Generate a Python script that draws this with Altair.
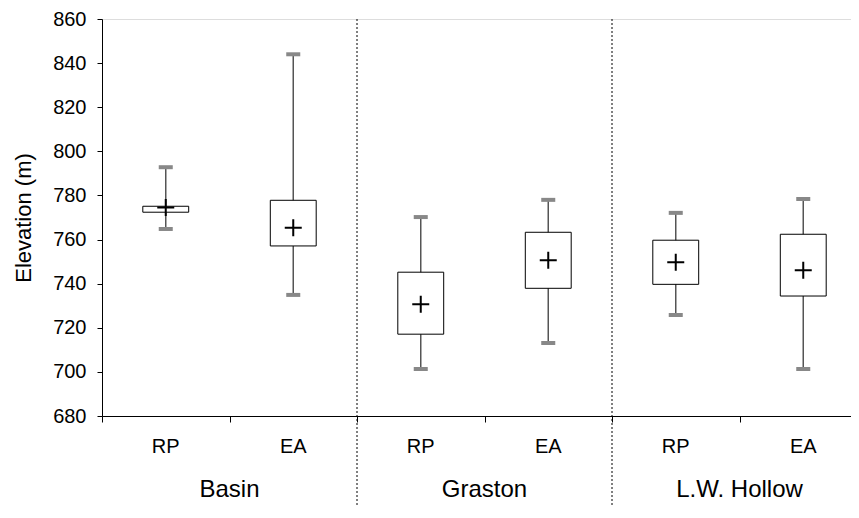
import altair as alt
import pandas as pd

# ---- data ----
groups = ["Basin", "Basin", "Graston", "Graston", "L.W. Hollow", "L.W. Hollow"]
methods = ["RP", "EA", "RP", "EA", "RP", "EA"]
positions = [0.5, 1.5, 2.5, 3.5, 4.5, 5.5]
whisker_max = [792.8, 844.0, 770.2, 778.0, 772.1, 778.4]
q3 = [775.1, 777.8, 745.2, 763.3, 759.7, 762.4]
means = [774.5, 765.4, 730.7, 750.6, 749.7, 746.1]
q1 = [772.4, 757.1, 717.1, 737.9, 739.7, 734.4]
whisker_min = [764.8, 734.9, 701.3, 713.1, 725.8, 701.3]

group_names = ["Basin", "Graston", "L.W. Hollow"]
group_centers = [1, 3, 5]
separators = [2, 4]
y_ticks = [680, 700, 720, 740, 760, 780, 800, 820, 840, 860]
x_ticks = [0, 1, 2, 3, 4, 5]

df = pd.DataFrame({
    "group": groups, "method": methods, "pos": positions,
    "wmax": whisker_max, "q3": q3, "mean": means, "q1": q1, "wmin": whisker_min,
})
gdf = pd.DataFrame({"name": group_names, "pos": group_centers})
sdf = pd.DataFrame({"pos": separators})

W, H = 749, 397
FONT = "Liberation Sans"

xs = alt.Scale(domain=[0, W / 127.5], nice=False, zero=False)
ys = alt.Scale(domain=[680, 860], nice=False, zero=False)

x_axis = alt.Axis(values=x_ticks, labels=False, title=None, grid=False,
                  domainColor="black", tickColor="black", tickSize=6,
                  domainWidth=1, tickWidth=1)
y_axis = alt.Axis(values=y_ticks, title="Elevation (m)", grid=False,
                  domainColor="black", tickColor="black", tickSize=5,
                  labelFontSize=20, labelColor="black", labelFont=FONT,
                  labelPadding=11, titleFontSize=22, titleFont=FONT,
                  titleFontWeight="normal", titleColor="black",
                  titleX=-79, titleY=H / 2, titleAngle=270,
                  titleAlign="center", titleBaseline="middle")

base = alt.Chart(df)

whiskers = base.mark_rule(color="#555555", strokeWidth=1.5).encode(
    x=alt.X("pos:Q", scale=xs, axis=x_axis),
    y=alt.Y("wmin:Q", scale=ys, axis=y_axis),
    y2="wmax:Q",
)

caps_top = base.transform_calculate(
    cl="datum.pos - 0.055", cr="datum.pos + 0.055"
).mark_rule(color="#888888", strokeWidth=4).encode(
    x=alt.X("cl:Q", scale=xs), x2="cr:Q", y=alt.Y("wmax:Q", scale=ys)
)
caps_bot = base.transform_calculate(
    cl="datum.pos - 0.055", cr="datum.pos + 0.055"
).mark_rule(color="#888888", strokeWidth=4).encode(
    x=alt.X("cl:Q", scale=xs), x2="cr:Q", y=alt.Y("wmin:Q", scale=ys)
)

boxes = base.transform_calculate(
    bl="datum.pos - 0.18", br="datum.pos + 0.18"
).mark_rect(fill="white", stroke="black", strokeWidth=1).encode(
    x=alt.X("bl:Q", scale=xs), x2="br:Q",
    y=alt.Y("q1:Q", scale=ys), y2="q3:Q",
)

crosses = base.mark_point(
    shape="M-1,0L1,0M0,-1L0,1", size=289, filled=False,
    color="black", strokeWidth=2, opacity=1
).encode(
    x=alt.X("pos:Q", scale=xs), y=alt.Y("mean:Q", scale=ys)
)

method_labels = base.mark_text(
    fontSize=20, font=FONT, color="black", baseline="middle", align="center"
).encode(
    x=alt.X("pos:Q", scale=xs), y=alt.value(H + 31), text="method:N"
)

group_labels = alt.Chart(gdf).mark_text(
    fontSize=24, font=FONT, color="black", baseline="middle", align="center"
).encode(
    x=alt.X("pos:Q", scale=xs), y=alt.value(H + 74), text="name:N"
)

seps = alt.Chart(sdf).mark_rule(
    color="black", strokeWidth=1, strokeDash=[2, 2]
).encode(
    x=alt.X("pos:Q", scale=xs), y=alt.value(0), y2=alt.value(H + 100)
)

chart = alt.layer(
    seps, whiskers, caps_top, caps_bot, boxes, crosses, method_labels, group_labels
).properties(
    width=W, height=H,
    autosize=alt.AutoSizeParams(type="none"),
    padding={"left": 94, "top": 11, "right": 0, "bottom": 90},
).configure_view(stroke=None).configure(background="white")

chart.save("out.html", embed_options={"renderer": "svg", "actions": False})
